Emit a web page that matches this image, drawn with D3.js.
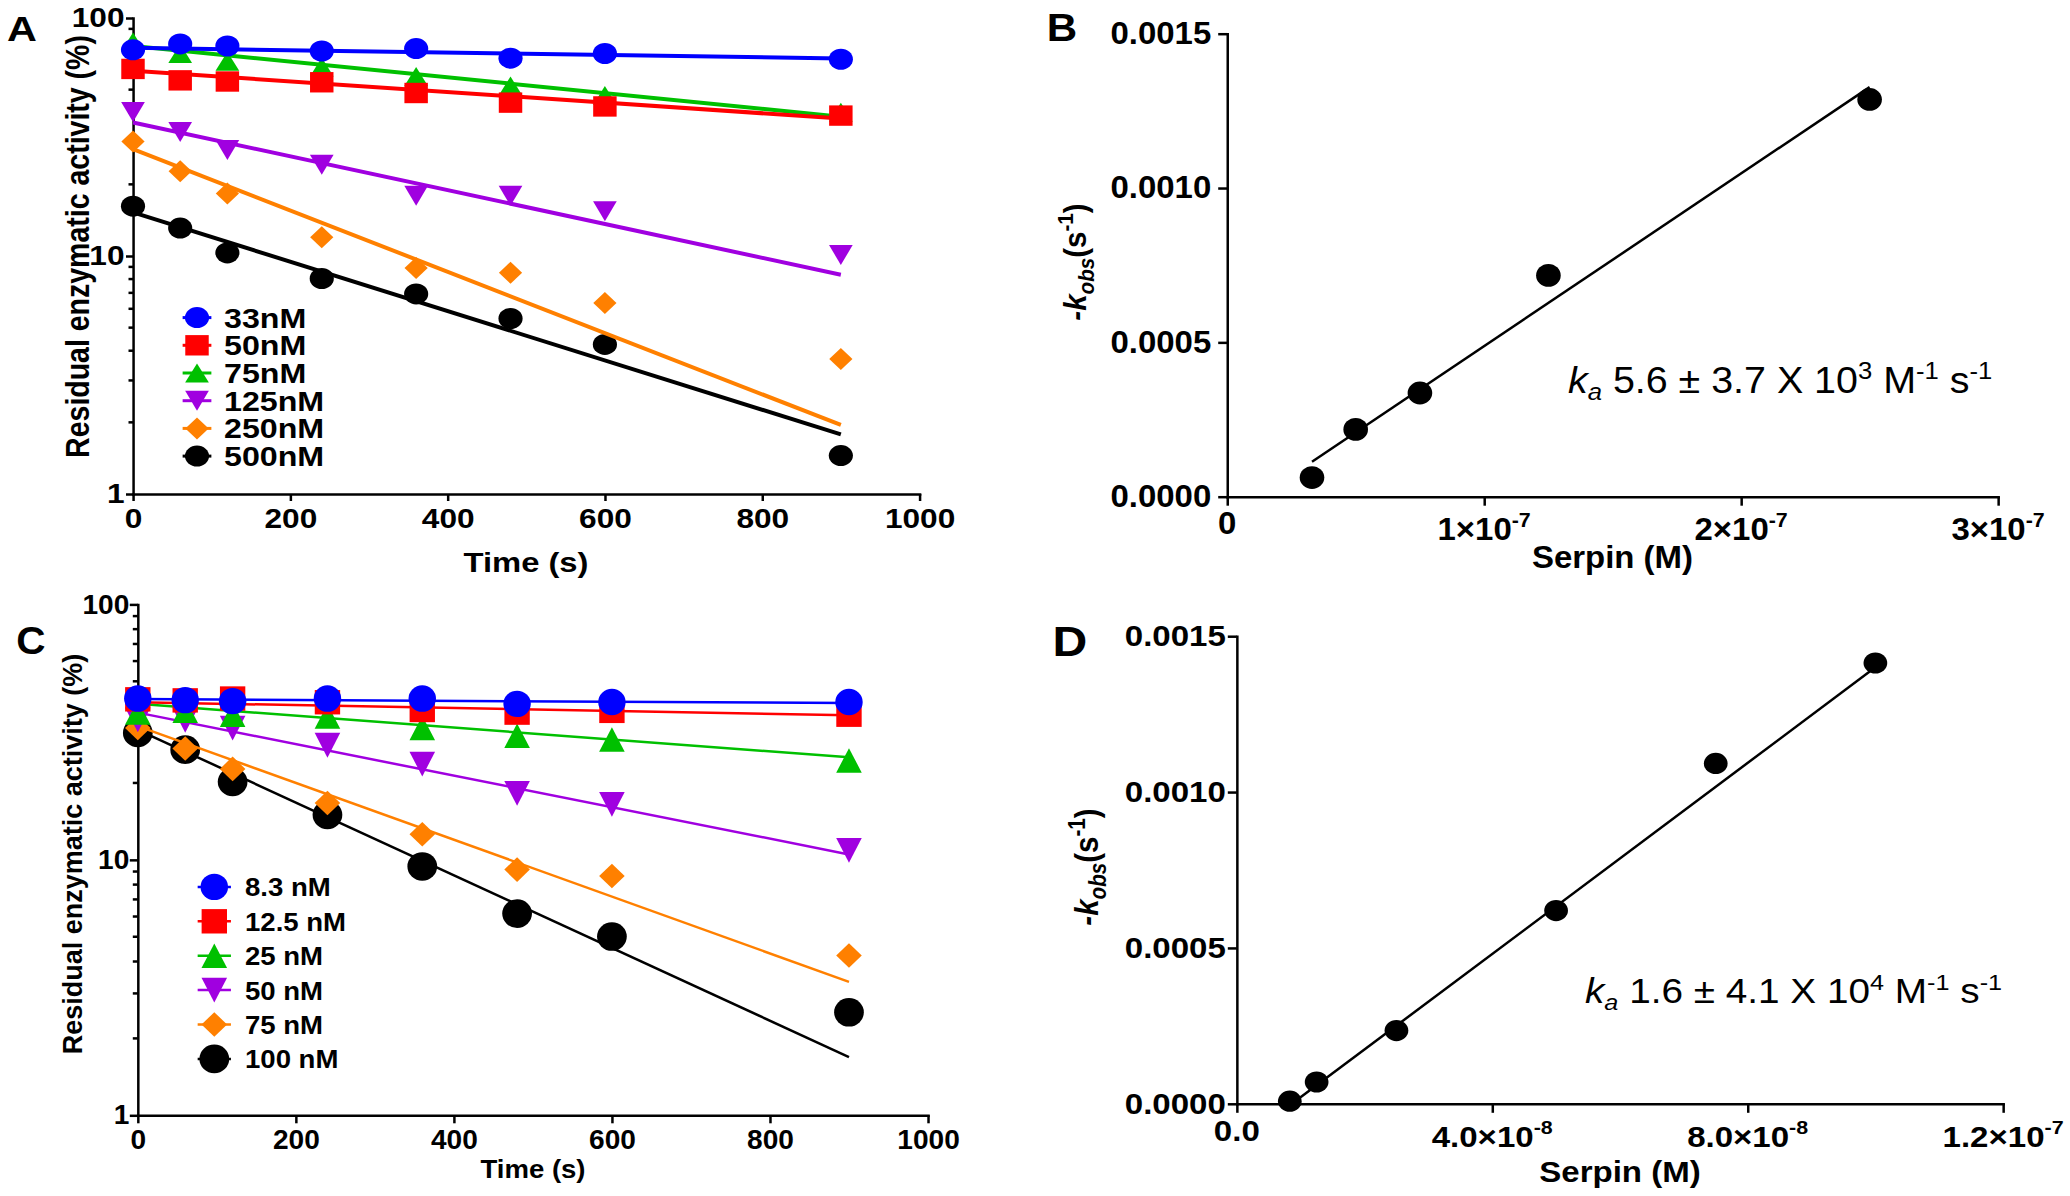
<!DOCTYPE html>
<html><head><meta charset="utf-8">
<script src="https://cdn.jsdelivr.net/npm/d3@7/dist/d3.min.js"></script>
<style>
html,body{margin:0;padding:0;background:#fff;}
svg{display:block;}
svg line, svg path.domain, svg path.fit { vector-effect: non-scaling-stroke; }
text{white-space:pre;}
</style></head><body>
<svg id="chart"></svg>
<script>
// ---------------- DATA ----------------
// Panel A
const timesA = [0, 60, 120, 240, 360, 480, 600, 900];
const labelsA = ["33nM", "50nM", "75nM", "125nM", "250nM", "500nM"];
const actA_33  = [73.5, 77.8, 76.3, 72.7, 74.4, 67.8, 70.9, 67.1];
const actA_50  = [61.1, 54.7, 54.1, 53.7, 48.4, 44.1, 42.5, 38.9];
const actA_75  = [79.3, 70.9, 65.8, 62.2, 56.8, 51.8, 47.2, 40.2];
const actA_125 = [40.3, 33.2, 27.9, 24.2, 17.9, 17.9, 15.4, 10.1];
const actA_250 = [30.3, 22.7, 18.3, 12.0, 8.9, 8.5, 6.34, 3.69];
const actA_500 = [16.2, 13.1, 10.3, 8.04, 6.93, 5.46, 4.25, 1.45];
const fitStartA = [74.9, 60.0, 76.3, 36.4, 28.1, 15.25];
const fitEndA   = [67.6, 37.8, 38.5, 8.34, 1.95, 1.78];

// Panel C
const timesC = [0, 60, 120, 240, 360, 480, 600, 900];
const labelsC = ["8.3 nM", "12.5 nM", "25 nM", "50 nM", "75 nM", "100 nM"];
const actC_8   = [42.8, 42.2, 41.8, 42.8, 42.8, 40.8, 41.5, 41.5];
const actC_12  = [42.5, 42.1, 42.8, 41.4, 38.6, 37.7, 38.3, 37.0];
const actC_25  = [37.7, 38.3, 37.0, 36.4, 32.8, 30.6, 29.6, 24.5];
const actC_50  = [35.3, 35.2, 32.8, 28.1, 23.7, 18.2, 16.5, 10.9];
const actC_75  = [32.8, 27.3, 22.7, 16.7, 12.6, 9.16, 8.64, 4.22];
const actC_100 = [31.4, 27.0, 20.2, 15.0, 9.42, 6.16, 5.01, 2.53];
const fitStartC = [42.6, 41.4, 40.8, 37.7, 33.4, 32.3];
const fitEndC   = [41.1, 36.8, 25.2, 10.5, 3.33, 1.69];

// Panel B
const serpinB = [33e-9, 50e-9, 75e-9, 125e-9, 250e-9];
const kobsB   = [0.000062, 0.000218, 0.000336, 0.000717, 0.001287];
const fitXB   = [33e-9, 250e-9];
const fitYB   = [0.000113, 0.001327];
const annotB  = ["5.6 ± 3.7", "3"];

// Panel D
const serpinD = [8.3e-9, 12.5e-9, 25e-9, 50e-9, 75e-9, 100e-9];
const kobsD   = [0.0000083, 0.00007, 0.000235, 0.00062, 0.001092, 0.001414];
const fitXD   = [8.3e-9, 100e-9];
const fitYD   = [-0.000005, 0.0014];
const annotD  = ["1.6 ± 4.1", "4"];

// Ticks
const ticksTime = [0, 200, 400, 600, 800, 1000];
const ticksLog = [1, 10, 100];
const ticksKobs = [0, 0.0005, 0.0010, 0.0015];
const ticksSerpinB = [0, 1e-7, 2e-7, 3e-7];
const tickLabelsSerpinB = [["0", ""], ["1×10", "-7"], ["2×10", "-7"], ["3×10", "-7"]];
const ticksSerpinD = [0, 4e-8, 8e-8, 1.2e-7];
const tickLabelsSerpinD = [["0.0", ""], ["4.0×10", "-8"], ["8.0×10", "-8"], ["1.2×10", "-7"]];

const seriesColors = ["#0000FF", "#FF0000", "#00C000", "#A000E0", "#FF8000", "#000000"];

// ---------------- DRAWING ----------------
const W = 2070, H = 1196;
const FONT = "'Liberation Sans', Arial, Helvetica, sans-serif";
const svg = d3.select('#chart').attr('width', W).attr('height', H);
svg.append('rect').attr('width', W).attr('height', H).attr('fill', '#fff');

function makePanel(sx) {
  const g = svg.append('g').attr('transform', `scale(${sx},1)`);
  return { g, X: v => v / sx, sx };
}

function shapePath(shape, d) {
  switch (shape) {
    case 'circle': case 'circleBig': {
      const r = d.r;
      return `M${-r},0A${r},${r} 0 1,0 ${r},0A${r},${r} 0 1,0 ${-r},0Z`;
    }
    case 'square': return `M${-d.h},${-d.h}H${d.h}V${d.h}H${-d.h}Z`;
    case 'triangle': return `M0,${-d.hh}L${d.hw},${d.hh}L${-d.hw},${d.hh}Z`;
    case 'triangleDown': return `M0,${d.hh}L${d.hw},${-d.hh}L${-d.hw},${-d.hh}Z`;
    case 'diamond': return `M0,${-d.hh}L${d.hw},0L0,${d.hh}L${-d.hw},0Z`;
  }
}

function styleAxis(sel, fs) {
  sel.attr('font-family', null).attr('font-size', null);
  sel.select('.domain').attr('stroke', '#000').attr('stroke-width', 2.5).attr('stroke-linecap', 'square');
  sel.selectAll('.tick line').attr('stroke', '#000').attr('stroke-width', 2.5);
  sel.selectAll('.tick text').attr('fill', '#000').attr('font-family', FONT)
     .attr('font-size', fs).attr('font-weight', 'bold');
}

function drawLogPanel(P, c) {
  const g = P.g, X = P.X;
  const x = d3.scaleLinear().domain([0, 1000]).range([X(c.xLeft), X(c.xRight)]);
  const y = d3.scaleLog().domain([1, 100]).range([c.yBot, c.yTop]);

  g.append('g').attr('transform', `translate(0,${c.yBot})`)
    .call(d3.axisBottom(x).tickValues(ticksTime).tickFormat(d3.format('d'))
      .tickSize(c.tickLen).tickSizeOuter(0).tickPadding(c.xPad))
    .call(styleAxis, c.fs);

  const ya = g.append('g').attr('transform', `translate(${X(c.xLeft)},0)`)
    .call(d3.axisLeft(y).tickValues(ticksLog).tickFormat(d3.format('d'))
      .tickSize(X(c.tickLen)).tickSizeOuter(0).tickPadding(X(c.yPad)))
    .call(styleAxis, c.fs);
  const minors = y.ticks().filter(v => !ticksLog.includes(v));
  ya.selectAll('line.minor').data(minors).join('line').attr('class', 'minor')
    .attr('x1', -X(c.minorLen)).attr('x2', 0)
    .attr('y1', d => y(d)).attr('y2', d => y(d))
    .attr('stroke', '#000').attr('stroke-width', 2.5);

  const t0 = c.times[0], t1 = c.times[c.times.length - 1];
  const line = d3.line().x(d => x(d[0])).y(d => y(d[1]));
  d3.range(c.series.length).reverse().forEach(i => {
    const s = c.series[i];
    g.append('path').attr('class', 'fit')
      .attr('d', line([[t0, s.fit0], [t1, s.fit1]]))
      .attr('fill', 'none').attr('stroke', s.color).attr('stroke-width', c.lineW);
    g.append('g').selectAll('path').data(c.times.map((t, j) => [t, s.vals[j]])).join('path')
      .attr('transform', d => `translate(${x(d[0])},${y(d[1])})`)
      .attr('d', shapePath(s.shape, c.dims[s.shape]))
      .attr('fill', s.color);
  });

  // legend
  const L = c.legend;
  c.series.forEach((s, i) => {
    const yy = L.y0 + i * L.dy;
    g.append('line').attr('x1', X(L.mx) - L.half).attr('x2', X(L.mx) + L.half)
      .attr('y1', yy).attr('y2', yy).attr('stroke', s.color).attr('stroke-width', L.lw);
    g.append('path').attr('transform', `translate(${X(L.mx)},${yy})`)
      .attr('d', shapePath(s.shape, c.dims[s.shape])).attr('fill', s.color);
    g.append('text').attr('x', X(L.tx)).attr('y', yy + L.fs * 0.36)
      .attr('font-family', FONT).attr('font-weight', 'bold').attr('font-size', L.fs)
      .text(s.label);
  });

  g.append('text').attr('x', X(c.title.x)).attr('y', c.title.y).attr('text-anchor', 'middle')
    .attr('font-family', FONT).attr('font-weight', 'bold').attr('font-size', c.title.fs)
    .text('Time (s)');
  g.append('text').attr('transform', `translate(${X(c.ytitle.x)},${c.ytitle.y}) rotate(-90)`)
    .attr('text-anchor', 'middle').attr('font-family', FONT).attr('font-weight', 'bold')
    .attr('font-size', c.ytitle.fs).text('Residual enzymatic activity (%)');
  g.append('text').attr('x', X(c.letter.x)).attr('y', c.letter.y).attr('text-anchor', 'middle')
    .attr('font-family', FONT).attr('font-weight', 'bold').attr('font-size', c.letter.fs)
    .text(c.letter.text);
}

function drawLinPanel(P, c) {
  const g = P.g, X = P.X;
  const x = d3.scaleLinear().domain(c.xDomain).range([X(c.xLeft), X(c.xRight)]);
  const y = d3.scaleLinear().domain([0, 0.0015]).range([c.yBot, c.yTop]);

  g.append('g').attr('transform', `translate(0,${c.yBot})`)
    .call(d3.axisBottom(x).tickValues(c.xTicks).tickFormat(() => '')
      .tickSize(c.tickLen).tickSizeOuter(0))
    .call(styleAxis, c.fs);
  c.xTicks.forEach((v, i) => {
    const [main, sup] = c.xLabels[i];
    const t = g.append('text').attr('x', x(v)).attr('y', c.yBot + (sup ? c.supBase : c.plainBase))
      .attr('text-anchor', 'middle').attr('font-family', FONT).attr('font-weight', 'bold')
      .attr('font-size', c.fs);
    t.append('tspan').text(main);
    if (sup) t.append('tspan').attr('font-size', c.fs * 0.65).attr('dy', -c.fs * 0.42).text(sup);
  });

  g.append('g').attr('transform', `translate(${X(c.xLeft)},0)`)
    .call(d3.axisLeft(y).tickValues(ticksKobs).tickFormat(d3.format('.4f'))
      .tickSize(X(c.tickLen)).tickSizeOuter(0).tickPadding(X(c.yPad)))
    .call(styleAxis, c.fs);

  g.append('path').attr('class', 'fit')
    .attr('d', d3.line().x(d => x(d[0])).y(d => y(d[1]))(c.fitX.map((v, i) => [v, c.fitY[i]])))
    .attr('fill', 'none').attr('stroke', '#000').attr('stroke-width', 2.5);
  g.append('g').selectAll('circle').data(c.xs.map((v, i) => [v, c.ys[i]])).join('circle')
    .attr('cx', d => x(d[0])).attr('cy', d => y(d[1])).attr('r', c.r).attr('fill', '#000');

  // annotation
  const A = c.annot, fs = A.fs;
  const t = g.append('text').attr('x', X(A.x)).attr('y', A.y).attr('font-family', FONT).attr('font-size', fs);
  t.append('tspan').attr('font-style', 'italic').text('k');
  t.append('tspan').attr('font-style', 'italic').attr('font-size', fs * 0.65).attr('dy', fs * 0.2).text('a');
  t.append('tspan').attr('dy', -fs * 0.2).text(' ' + c.annotText[0] + ' X 10');
  t.append('tspan').attr('font-size', fs * 0.65).attr('dy', -fs * 0.38).text(c.annotText[1]);
  t.append('tspan').attr('dy', fs * 0.38).text(' M');
  t.append('tspan').attr('font-size', fs * 0.65).attr('dy', -fs * 0.38).text('-1');
  t.append('tspan').attr('dy', fs * 0.38).text(' s');
  t.append('tspan').attr('font-size', fs * 0.65).attr('dy', -fs * 0.38).text('-1');

  g.append('text').attr('x', X(c.title.x)).attr('y', c.title.y).attr('text-anchor', 'middle')
    .attr('font-family', FONT).attr('font-weight', 'bold').attr('font-size', c.title.fs)
    .text('Serpin (M)');

  const yt = c.ytitle, f2 = yt.fs;
  const tt = g.append('text').attr('transform', `translate(${X(yt.x)},${yt.y}) rotate(-90)`)
    .attr('text-anchor', 'middle').attr('font-family', FONT).attr('font-weight', 'bold').attr('font-size', f2);
  tt.append('tspan').attr('font-style', 'italic').text('-k');
  tt.append('tspan').attr('font-style', 'italic').attr('font-size', f2 * 0.7).attr('dy', f2 * 0.25).text('obs');
  tt.append('tspan').attr('dy', -f2 * 0.25).text('(s');
  tt.append('tspan').attr('font-size', f2 * 0.7).attr('dy', -f2 * 0.4).text('-1');
  tt.append('tspan').attr('dy', f2 * 0.4).text(')');

  g.append('text').attr('x', X(c.letter.x)).attr('y', c.letter.y).attr('text-anchor', 'middle')
    .attr('font-family', FONT).attr('font-weight', 'bold').attr('font-size', c.letter.fs)
    .text(c.letter.text);
}

// ---- Panel A ----
const shapes = ['circle', 'square', 'triangle', 'triangleDown', 'diamond', 'circle'];
const valsA = [actA_33, actA_50, actA_75, actA_125, actA_250, actA_500];
drawLogPanel(makePanel(1.15), {
  xLeft: 133, xRight: 919.5, yTop: 18, yBot: 494,
  tickLen: 7, minorLen: 4.5, xPad: 7.5, yPad: 1.5, fs: 27.5, lineW: 4,
  times: timesA,
  series: labelsA.map((l, i) => ({ label: l, vals: valsA[i], color: seriesColors[i], shape: shapes[i], fit0: fitStartA[i], fit1: fitEndA[i] })),
  dims: { circle: { r: 10.5 }, square: { h: 10.2 }, triangle: { hw: 10.3, hh: 9.5 }, triangleDown: { hw: 10.3, hh: 10 }, diamond: { hw: 10.1, hh: 11 } },
  legend: { mx: 197, tx: 224, y0: 317.6, dy: 27.7, fs: 28, half: 12.5, lw: 3 },
  title: { x: 526, y: 572, fs: 28.5 },
  ytitle: { x: 89, y: 246.5, fs: 28.5 },
  letter: { text: 'A', x: 22, y: 41, fs: 36 }
});

// ---- Panel C ----
const shapesC = ['circle', 'square', 'triangle', 'triangleDown', 'diamond', 'circleBig'];
const valsC = [actC_8, actC_12, actC_25, actC_50, actC_75, actC_100];
drawLogPanel(makePanel(1.04), {
  xLeft: 137.8, xRight: 928, yTop: 604.4, yBot: 1115.3,
  tickLen: 8, minorLen: 5, xPad: 6.8, yPad: 0.5, fs: 27, lineW: 2.5,
  times: timesC,
  series: labelsC.map((l, i) => ({ label: l, vals: valsC[i], color: seriesColors[i], shape: shapesC[i], fit0: fitStartC[i], fit1: fitEndC[i] })),
  dims: { circle: { r: 13.2 }, circleBig: { r: 14.3 }, square: { h: 12.2 }, triangle: { hw: 12.3, hh: 12.2 }, triangleDown: { hw: 12.3, hh: 12.4 }, diamond: { hw: 12.3, hh: 12.3 } },
  legend: { mx: 214.3, tx: 245, y0: 886.9, dy: 34.4, fs: 26.5, half: 16, lw: 2.5 },
  title: { x: 533, y: 1177.7, fs: 26.5 },
  ytitle: { x: 82.3, y: 854, fs: 27 },
  letter: { text: 'C', x: 31, y: 654, fs: 39 }
});

// ---- Panel B ----
drawLinPanel(makePanel(1.08), {
  xLeft: 1227.2, xRight: 1998.1, yTop: 33.7, yBot: 496.7,
  xDomain: [0, 3e-7], xTicks: ticksSerpinB, xLabels: tickLabelsSerpinB,
  tickLen: 9, yPad: 7, fs: 30.5, plainBase: 37, supBase: 43, r: 11.4,
  xs: serpinB, ys: kobsB, fitX: fitXB, fitY: fitYB, annotText: annotB,
  annot: { x: 1568, y: 393, fs: 36.5 },
  title: { x: 1612.5, y: 568, fs: 30.5 },
  ytitle: { x: 1086, y: 262, fs: 29.5 },
  letter: { text: 'B', x: 1062, y: 41, fs: 39 }
});

// ---- Panel D ----
drawLinPanel(makePanel(1.12), {
  xLeft: 1236.8, xRight: 2003.1, yTop: 636.2, yBot: 1103.8,
  xDomain: [0, 1.2e-7], xTicks: ticksSerpinD, xLabels: tickLabelsSerpinD,
  tickLen: 9, yPad: 2, fs: 29.5, plainBase: 37.5, supBase: 43, r: 10.6,
  xs: serpinD, ys: kobsD, fitX: fitXD, fitY: fitYD, annotText: annotD,
  annot: { x: 1585, y: 1003, fs: 34.6 },
  title: { x: 1620, y: 1182, fs: 29.5 },
  ytitle: { x: 1098, y: 867, fs: 29.5 },
  letter: { text: 'D', x: 1070, y: 656, fs: 43 }
});
</script>
</body></html>
